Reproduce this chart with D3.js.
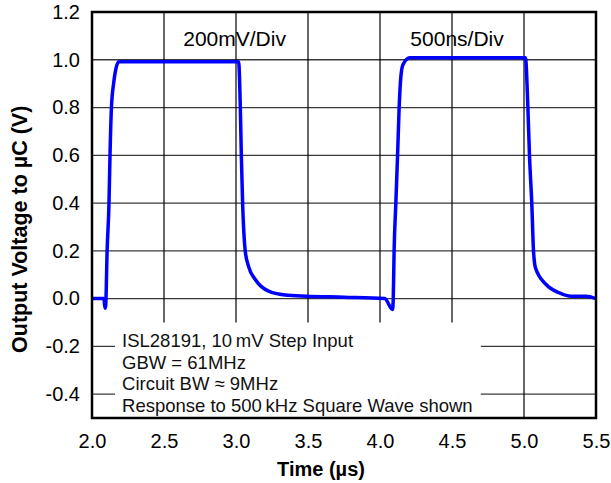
<!DOCTYPE html>
<html lang="en">
<head>
<meta charset="UTF-8">
<script src="https://cdnjs.cloudflare.com/ajax/libs/d3/7.8.5/d3.min.js"></script>
<style>
body { margin: 0; background: white; }
svg { display: block; font-family: "Liberation Sans", Arial, sans-serif; }
</style>
</head>
<body>
<script>
// scope trace (time in µs, volts)
var timeUs = [2.00, 2.083, 2.09, 2.095, 2.105, 2.118, 2.125, 2.135, 2.15, 2.165, 2.187,
              3.018, 3.03, 3.037, 3.046, 3.064, 3.087, 3.134, 3.226, 3.34, 3.49, 3.75, 4.033, 4.087,
              4.092, 4.098, 4.11, 4.122, 4.133, 4.145, 4.16, 4.207,
              5.01, 5.027, 5.038, 5.054, 5.066, 5.08, 5.154, 5.246, 5.327, 5.43, 5.50];
var volts  = [0.00, 0.00, -0.04, -0.03, 0.2, 0.4, 0.6, 0.8, 0.9, 0.96, 0.992,
              0.992, 0.8, 0.6, 0.4, 0.2, 0.135, 0.08, 0.031, 0.015, 0.01, 0.006, 0.0, -0.046,
              0.0, 0.2, 0.4, 0.6, 0.8, 0.93, 0.98, 1.008,
              1.008, 0.8, 0.6, 0.4, 0.2, 0.128, 0.059, 0.024, 0.01, 0.01, 0.0];

var xTicks = [2.0, 2.5, 3.0, 3.5, 4.0, 4.5, 5.0, 5.5];
var yTicks = [1.2, 1.0, 0.8, 0.6, 0.4, 0.2, 0.0, -0.2, -0.4];
var noteLines = ["ISL28191, 10\u2009mV Step Input", "GBW = 61MHz",
                 "Circuit BW \u2248 9MHz", "Response to 500\u2009kHz Square Wave shown"];

var data = timeUs.map(function(t, i) { return {t: t, v: volts[i]}; });

var margin = {top: 12, right: 15, bottom: 65, left: 92},
    W = 611, H = 483,
    width = W - margin.left - margin.right,
    height = H - margin.top - margin.bottom;

var x = d3.scaleLinear().domain([2.0, 5.5]).range([0, width]);
var y = d3.scaleLinear().domain([-0.5, 1.2]).range([height, 0]);

// plain hyphen for negatives, like the original
var fmt = d => d3.format(".1f")(d).replace("\u2212", "-");

var svg = d3.select("body").append("svg")
    .attr("width", W).attr("height", H);
var g = svg.append("g")
    .attr("transform", "translate(" + margin.left + "," + margin.top + ")");

// grid
g.append("g").selectAll("line").data(yTicks).enter().append("line")
    .attr("x1", 0).attr("x2", width)
    .attr("y1", d => y(d)).attr("y2", d => y(d))
    .attr("stroke", "#3a3a3a").attr("stroke-width", 1.3);
g.append("g").selectAll("line").data(xTicks.slice(1, -1)).enter().append("line")
    .attr("x1", d => x(d)).attr("x2", d => x(d))
    .attr("y1", 0).attr("y2", height)
    .attr("stroke", "#000").attr("stroke-width", 1.2);

// white note box covering the grid
var boxX0 = x(2.16), boxX1 = x(4.7), boxY0 = y(-0.1);
g.append("rect")
    .attr("x", boxX0).attr("y", boxY0)
    .attr("width", boxX1 - boxX0).attr("height", height - boxY0)
    .attr("fill", "white");

g.selectAll(".note").data(noteLines).enter().append("text")
    .attr("class", "note")
    .attr("x", boxX0 + 7)
    .attr("y", (d, i) => 347 - margin.top + i * 21.6)
    .style("font-size", "18.5px")
    .attr("fill", "#111")
    .text(d => d);

// trace
var line = d3.line().x(d => x(d.t)).y(d => y(d.v)).curve(d3.curveMonotoneX);
g.append("path").datum(data)
    .attr("d", line)
    .attr("fill", "none")
    .attr("stroke", "#0000ff")
    .attr("stroke-width", 3.5)
    .attr("stroke-linejoin", "round");

// frame
g.append("rect").attr("x", 0).attr("y", 0)
    .attr("width", width).attr("height", height)
    .attr("fill", "none").attr("stroke", "#000").attr("stroke-width", 2.5);

// axes (labels only)
var xAxis = d3.axisBottom(x).tickValues(xTicks).tickFormat(fmt).tickSize(0).tickPadding(16);
var yAxis = d3.axisLeft(y).tickValues(yTicks).tickFormat(fmt).tickSize(0).tickPadding(12);
g.append("g").attr("transform", "translate(0," + height + ")").call(xAxis)
    .call(a => a.select(".domain").remove())
    .selectAll("text").style("font-size", "20px").attr("fill", "#000")
    .style("font-family", "Liberation Sans, Arial, sans-serif");
g.append("g").call(yAxis)
    .call(a => a.select(".domain").remove())
    .selectAll("text").style("font-size", "20px").attr("fill", "#000")
    .style("font-family", "Liberation Sans, Arial, sans-serif");

// scale annotations
g.append("text").attr("x", x(2.99)).attr("y", 46 - margin.top)
    .attr("text-anchor", "middle").style("font-size", "21px").text("200mV/Div");
g.append("text").attr("x", x(4.535)).attr("y", 46 - margin.top)
    .attr("text-anchor", "middle").style("font-size", "21px").text("500ns/Div");

// titles
svg.append("text")
    .attr("x", 321).attr("y", 476)
    .attr("text-anchor", "middle")
    .style("font-size", "20px").style("font-weight", "bold")
    .text("Time (\u00b5s)");
svg.append("text")
    .attr("transform", "translate(27," + (margin.top + y(0.29)) + ") rotate(-90)")
    .attr("text-anchor", "middle")
    .style("font-size", "21.5px").style("font-weight", "bold")
    .text("Output Voltage to \u00b5C (V)");
</script>
</body>
</html>
